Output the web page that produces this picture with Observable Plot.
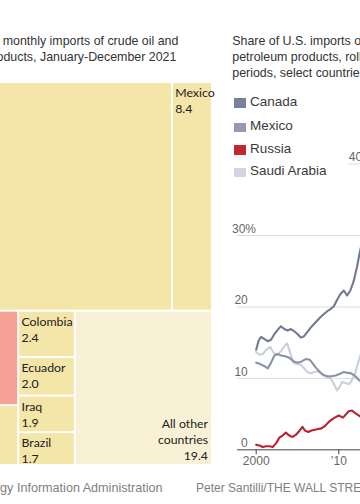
<!DOCTYPE html>
<html>
<head>
<meta charset="utf-8">
<script src="https://cdn.jsdelivr.net/npm/d3@7"></script>
<script src="https://cdn.jsdelivr.net/npm/@observablehq/plot@0.6"></script>
<style>
  html, body { margin: 0; padding: 0; background: #fff; }
  #page { position: relative; width: 360px; height: 504px; overflow: hidden;
          font-family: "Liberation Sans", Arial, sans-serif; }
  #page svg { position: absolute; left: 0; top: 0; }
  .t { position: absolute; white-space: nowrap; line-height: 16px; }
  .title { font-size: 12.4px; color: #333; }
  .src { font-size: 12px; color: #808080; }
  .src.wide { font-size: 12.6px; }
  .leg { position: absolute; left: 234px; white-space: nowrap; font-size: 13.5px; line-height: 16px; color: #3a3a3a; }
  .leg i { position: absolute; left: 0; top: 4.5px; width: 11.5px; height: 9.5px; }
  .leg span { position: absolute; left: 16px; top: 0; }
</style>
</head>
<body>
<div id="page"></div>
<script>
// ---------- Treemap data (share of U.S. imports, %, 2021) ----------
const countries = ["Canada", "Mexico", "Russia", "Saudi Arabia", "Colombia", "Ecuador", "Iraq", "Brazil", "All other countries"];
const shares2021 = [51.3, 8.4, 7.9, 5.0, 2.4, 2.0, 1.9, 1.7, 19.4];
const tileNames = ["Canada", "Mexico", "Russia", "Saudi\nArabia", "Colombia", "Ecuador", "Iraq", "Brazil", "All other\ncountries"];
const tileGroup = ["base", "base", "highlight", "base", "base", "base", "base", "base", "other"];
// nesting of the tiles: rows -> columns -> cells
const tileRows = [["Canada", "Mexico"], [["Russia", "Saudi Arabia"], ["Colombia", "Ecuador", "Iraq", "Brazil"], "All other countries"]];

// ---------- Line chart data (rolling 12-month share, %) ----------
const seriesNames = ["Canada", "Mexico", "Russia", "Saudi Arabia"];
const canadaYears = [2000.0, 2000.3, 2000.6, 2001.0, 2001.4, 2001.8, 2002.2, 2002.6, 2003.0, 2003.4, 2003.8, 2004.2, 2004.6, 2005.0, 2005.4, 2005.8, 2006.2, 2006.6, 2007.0, 2007.4, 2007.8, 2008.2, 2008.6, 2009.0, 2009.4, 2009.8, 2010.2, 2010.6, 2011.0, 2011.4, 2011.8, 2012.2, 2012.5, 2012.8];
const canadaShare = [14.0, 15.3, 15.8, 15.5, 15.2, 15.4, 16.2, 16.8, 17.3, 16.9, 16.7, 16.9, 16.6, 16.2, 15.7, 15.9, 16.5, 17.1, 17.6, 18.1, 18.6, 19.0, 19.4, 19.7, 20.1, 21.0, 21.8, 22.3, 21.6, 22.3, 23.6, 25.6, 27.4, 29.0];
const mexicoYears = [2000.0, 2000.5, 2001.0, 2001.4, 2001.8, 2002.2, 2002.6, 2003.0, 2003.5, 2004.0, 2004.5, 2005.0, 2005.4, 2006.0, 2006.5, 2006.9, 2007.3, 2007.7, 2008.1, 2008.6, 2009.1, 2009.6, 2010.1, 2010.6, 2011.0, 2011.5, 2012.0, 2012.4, 2012.8];
const mexicoShare = [12.2, 12.0, 11.7, 11.4, 12.2, 13.2, 13.4, 13.2, 13.1, 12.9, 12.4, 12.2, 12.3, 12.7, 12.6, 12.0, 11.4, 10.9, 10.5, 10.3, 10.3, 10.4, 10.6, 10.9, 10.8, 10.7, 10.3, 9.8, 9.5];
const russiaYears = [2000.0, 2000.4, 2000.8, 2001.2, 2001.6, 2002.0, 2002.4, 2002.8, 2003.2, 2003.6, 2004.0, 2004.4, 2004.8, 2005.2, 2005.6, 2005.9, 2006.3, 2006.7, 2007.1, 2007.5, 2007.9, 2008.3, 2008.7, 2009.1, 2009.5, 2010.0, 2010.5, 2010.9, 2011.2, 2011.6, 2011.9, 2012.3, 2012.8];
const russiaShare = [0.7, 0.6, 0.4, 0.5, 0.5, 0.4, 0.9, 1.7, 2.0, 2.4, 2.0, 1.8, 2.1, 2.6, 3.2, 2.7, 2.5, 2.7, 2.8, 2.9, 3.0, 3.3, 3.8, 4.2, 4.5, 4.8, 4.5, 5.0, 5.4, 5.5, 5.2, 4.9, 4.5];
const saudiYears = [2000.0, 2000.4, 2000.8, 2001.2, 2001.7, 2002.1, 2002.5, 2003.0, 2003.4, 2003.75, 2004.1, 2004.5, 2004.9, 2005.4, 2005.8, 2006.2, 2006.6, 2007.0, 2007.5, 2008.0, 2008.5, 2009.0, 2009.4, 2009.8, 2010.1, 2010.4, 2010.9, 2011.3, 2011.7, 2012.0, 2012.3, 2012.6, 2012.8];
const saudiShare = [13.7, 13.3, 13.4, 14.0, 14.4, 13.6, 13.3, 13.8, 14.5, 14.9, 13.6, 12.2, 12.0, 11.9, 11.4, 10.9, 10.7, 10.9, 11.0, 10.5, 10.2, 10.0, 9.2, 8.3, 8.8, 9.5, 9.3, 9.2, 10.0, 10.8, 12.0, 13.2, 13.6];
const yTicks = [0, 10, 20];
const yTopTicks = [30];
const yHiddenTick = [40];
const xTicks = [2000, 2010];
const xTickLabels = ["2000", "\u201910"];

// ---------- Texts ----------
const leftTitle = ["U.S. average monthly imports of crude oil and", "petroleum products, January-December 2021"];
const rightTitle = ["Share of U.S. imports of crude oil and", "petroleum products, rolling 12-month", "periods, select countries"];
const sourceText = "Source: U.S. Energy Information Administration";
const creditText = "Peter Santilli/THE WALL STREET JOURNAL";

// ---------- Styles ----------
const tileColors = {base: "#f4e5a9", highlight: "#f5a195", other: "#f9f1d5"};
const lineColors = ["#727994", "#8c91a8", "#b8232f", "#c9d0dd"];
const legendColors = ["#7a8099", "#9599ad", "#c0272f", "#d0d5e0"];

const page = document.getElementById("page");

// ---------- Treemap ----------
const TW = 284, TH = 381;
function toNode(x) {
  if (Array.isArray(x)) return {children: x.map(toNode)};
  const i = countries.indexOf(x);
  return {i, value: shares2021[i]};
}
const root = d3.hierarchy({children: tileRows.map(toNode)}).sum(d => d.value || 0);
d3.treemap()
  .size([TW, TH])
  .paddingInner(2)
  .tile((node, x0, y0, x1, y1) => (node.depth % 2 === 0 ? d3.treemapSlice : d3.treemapDice)(node, x0, y0, x1, y1))(root);
const tiles = root.leaves().map(d => ({
  x0: d.x0, x1: d.x1, y0: d.y0, y1: d.y1,
  group: tileGroup[d.data.i],
  label: tileNames[d.data.i] + "\n" + d3.format(".1f")(shares2021[d.data.i])
}));

const treemap = Plot.plot({
  width: 360, height: 504,
  margin: 0,
  x: {domain: [0, TW], range: [-72, 211], axis: null},
  y: {domain: [0, TH], range: [83, 464], axis: null},
  color: {domain: Object.keys(tileColors), range: Object.values(tileColors)},
  style: {background: "transparent", fontFamily: "Lato, 'Liberation Sans', sans-serif"},
  marks: [
    Plot.rect(tiles, {x1: "x0", x2: "x1", y1: "y0", y2: "y1", fill: "group"}),
    Plot.text(tiles.filter(d => d.group !== "other"), {
      x: "x0", y: "y0", text: "label", textAnchor: "start", lineAnchor: "top",
      dx: 1.8, dy: 2.3, fontSize: 12.3, lineHeight: 1.3, fill: "#222"
    }),
    Plot.text(tiles.filter(d => d.group === "other"), {
      x: "x1", y: "y1", text: "label", textAnchor: "end", lineAnchor: "bottom",
      dx: -3.5, dy: -4.7, fontSize: 12.3, lineHeight: 1.3, fill: "#222"
    })
  ]
});
page.appendChild(treemap);

// ---------- Line chart ----------
const seriesYears = [canadaYears, mexicoYears, russiaYears, saudiYears];
const seriesShare = [canadaShare, mexicoShare, russiaShare, saudiShare];
const drawOrder = ["Saudi Arabia", "Mexico", "Canada", "Russia"];
const lineData = drawOrder.flatMap(name => {
  const k = seriesNames.indexOf(name);
  return seriesYears[k].map((yr, j) => ({country: name, year: yr, share: seriesShare[k][j]}));
});

const lines = Plot.plot({
  width: 360, height: 504,
  marginLeft: 237, marginRight: 0, marginTop: 0, marginBottom: 54.7,
  x: {domain: [2000, 2010], range: [255.7, 338.3], axis: null},
  y: {domain: [0, 30], range: [449.3, 235], axis: null},
  color: {domain: seriesNames, range: lineColors},
  style: {background: "transparent", fontFamily: "'Liberation Sans', Arial, sans-serif"},
  marks: [
    Plot.ruleY(yTicks.concat(yTopTicks).filter(d => d > 0), {stroke: "#dcdcdc", strokeWidth: 1}),
    Plot.ruleY(yHiddenTick, {x1: 2011.1, x2: 2030, stroke: "#dcdcdc", strokeWidth: 1}),
    Plot.text(yTicks, {y: d => d, text: d => String(d), frameAnchor: "left", dx: 10.3, dy: -2.8,
      textAnchor: "end", lineAnchor: "bottom", fontSize: 12, fill: "#666"}),
    Plot.text(yTopTicks, {y: d => d, text: d => d + "%", frameAnchor: "left", dx: -5.5, dy: -2.8,
      textAnchor: "start", lineAnchor: "bottom", fontSize: 12, fill: "#666"}),
    Plot.text(yHiddenTick, {y: d => d, x: 2011.2, text: d => String(d), dy: -2.8,
      textAnchor: "start", lineAnchor: "bottom", fontSize: 12, fill: "#666"}),
    Plot.line(lineData, {x: "year", y: "share", z: "country", stroke: "country", strokeWidth: 2.1,
      strokeLinejoin: "round", strokeLinecap: "round"}),
    Plot.ruleY([0], {stroke: "#444", strokeWidth: 1}),
    Plot.axisX(xTicks, {anchor: "bottom", label: null, tickSize: 5, tickPadding: 1.5, stroke: "#444",
      tickFormat: (d, i) => xTickLabels[i], fontSize: 12, fill: "#666", color: "#666"})
  ]
});
page.appendChild(lines);

// ---------- HTML texts ----------
function addText(cls, txt, style) {
  const d = document.createElement("div");
  d.className = "t " + cls;
  d.textContent = txt;
  Object.assign(d.style, style);
  page.appendChild(d);
  return d;
}
leftTitle.forEach((s, i) => addText("title", s, {left: "-73px", top: (33.4 + 16 * i) + "px"}));
rightTitle.forEach((s, i) => addText("title", s, {left: "232.3px", top: (32.7 + 16 * i) + "px"}));
addText("src wide", sourceText, {right: (360 - 162.5) + "px", top: "479.6px"});
addText("src", creditText, {left: "196px", top: "479.8px"});

// legend
seriesNames.forEach((name, i) => {
  const d = document.createElement("div");
  d.className = "leg";
  d.style.top = (93.6 + 22.4 * i + (i > 0 ? 2.2 : 0)) + "px";
  d.innerHTML = `<i style="background:${legendColors[i]}"></i><span>${name}</span>`;
  page.appendChild(d);
});
</script>
</body>
</html>
